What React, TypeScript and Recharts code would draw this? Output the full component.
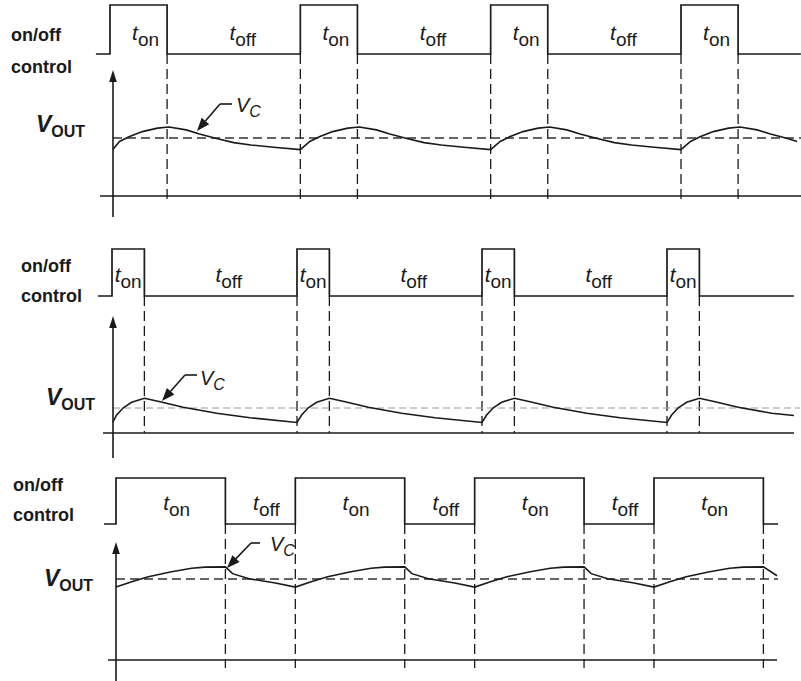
import React from 'react';
import { LineChart, Line, XAxis, YAxis, ReferenceLine, ReferenceDot } from 'recharts';

// ================= DATA (time in arbitrary units, period = 10; voltage with V_OUT = 5) =================

// ---- Panel 1: short on-time ----
const p1Rises = [0, 10, 20, 30];
const p1Falls = [3, 13, 23, 33];
const p1CtrlSpan = [-0.74, 36.3];
const p1VcTime = [
  0.15, 0.5, 1, 1.7, 2.5, 3.1, 4, 4.7, 5.6, 6.5, 7.4, 8.6,
  10, 10.5, 11, 11.7, 12.5, 13.1, 14, 14.7, 15.6, 16.5, 17.4, 18.6,
  20, 20.5, 21, 21.7, 22.5, 23.1, 24, 24.7, 25.6, 26.5, 27.4, 28.6,
  30, 30.5, 31, 31.7, 32.5, 33.1, 34, 34.7, 35.6, 36.1,
];
const p1VcVolt = [
  4.0, 4.7, 5.1, 5.55, 5.85, 5.95, 5.7, 5.35, 4.95, 4.6, 4.4, 4.2,
  4.0, 4.7, 5.1, 5.55, 5.85, 5.95, 5.7, 5.35, 4.95, 4.6, 4.4, 4.2,
  4.0, 4.7, 5.1, 5.55, 5.85, 5.95, 5.7, 5.35, 4.95, 4.6, 4.4, 4.2,
  4.0, 4.7, 5.1, 5.55, 5.85, 5.95, 5.7, 5.35, 4.95, 4.7,
];
const p1Vout = 5;

// ---- Panel 2: very short on-time ----
const p2Rises = [0, 10, 20, 30];
const p2Falls = [1.75, 11.75, 21.75, 31.75];
const p2CtrlSpan = [-0.76, 36.86];
const p2VcTime = [
  0.05, 0.25, 0.61, 1.06, 1.75, 2.6, 3.85, 5.66, 7.46,
  10, 10.25, 10.61, 11.06, 11.75, 12.6, 13.85, 15.66, 17.46,
  20, 20.25, 20.61, 21.06, 21.75, 22.6, 23.85, 25.66, 27.46,
  30, 30.25, 30.61, 31.06, 31.75, 32.6, 33.85, 35.66, 36.86,
];
const p2VcVolt = [
  2.2, 3.6, 5.05, 6.15, 6.95, 6.25, 5.15, 3.95, 3.05,
  2.1, 3.6, 5.05, 6.15, 6.95, 6.25, 5.15, 3.95, 3.05,
  2.1, 3.6, 5.05, 6.15, 6.95, 6.25, 5.15, 3.95, 3.05,
  2.1, 3.6, 5.05, 6.15, 6.95, 6.25, 5.15, 3.95, 3.5,
];
const p2Vout = 5;

// ---- Panel 3: long on-time ----
const p3Rises = [0, 10, 20, 30];
const p3Falls = [6.1, 16.1, 26.1, 36.1];
const p3CtrlSpan = [-0.67, 36.92];
const p3VcTime = [
  0, 0.88, 1.8, 3.1, 4.22, 4.96, 6.1, 6.5, 7.42, 8.89,
  10, 10.88, 11.8, 13.1, 14.22, 14.96, 16.1, 16.5, 17.42, 18.89,
  20, 20.88, 21.8, 23.1, 24.22, 24.96, 26.1, 26.5, 27.42, 28.89,
  30, 30.88, 31.8, 33.1, 34.22, 34.96, 36.1, 36.86,
];
const p3VcVolt = [
  4.5, 4.83, 5.14, 5.45, 5.66, 5.73, 5.75, 5.33, 5.02, 4.75,
  4.5, 4.83, 5.14, 5.45, 5.66, 5.73, 5.75, 5.33, 5.02, 4.75,
  4.5, 4.83, 5.14, 5.45, 5.66, 5.73, 5.75, 5.33, 5.02, 4.75,
  4.5, 4.83, 5.14, 5.45, 5.66, 5.73, 5.75, 5.2,
];
const p3Vout = 5;

// ================= LAYOUT / STYLE =================
const W = 801;
const INK = '#1a1a1a';
const FONT = '"Liberation Sans", Arial, Helvetica, sans-serif';

type Layout = {
  top: number; height: number; t0Px: number; pxPerT: number;
  vZeroPx: number; pxPerV: number; cLowPx: number; cHighPx: number;
};

type Spec = {
  L: Layout;
  rises: number[]; falls: number[]; span: number[];
  vcT: number[]; vcV: number[]; vout: number;
  voutStroke: string; voutWidth: number; voutDash: string;
  axisPx: number; axisTopPy: number; axisBottomPy: number;
  baseFromPx: number; baseToPx: number;
  voutFromPx: number; voutToPx: number;
  dashBottomPy: number;
  onoff: number[]; control: number[]; voutLabel: number[];
  tLabelPy: number; tOnDx: number; tOffDx: number;
  vcLabel: number[]; callout: number[][];
};

const xDomain = (L: Layout) => [-L.t0Px / L.pxPerT, (W - L.t0Px) / L.pxPerT];
const vDomain = (L: Layout) => {
  const z = L.vZeroPx - L.top;
  return [(z - L.height) / L.pxPerV, z / L.pxPerV];
};
const cDomain = (L: Layout) => {
  const z = L.cLowPx - L.top;
  const k = L.cLowPx - L.cHighPx;
  return [(z - L.height) / k, z / k];
};
const tAt = (L: Layout, px: number) => (px - L.t0Px) / L.pxPerT;
const vAt = (L: Layout, py: number) => (L.vZeroPx - py) / L.pxPerV;

const arrowShape = (len: number, half: number) => (p: any) => {
  const { x1, y1, x2, y2 } = p;
  const a = Math.atan2(y2 - y1, x2 - x1);
  const bx = x2 - len * Math.cos(a);
  const by = y2 - len * Math.sin(a);
  const ox = -Math.sin(a) * half;
  const oy = Math.cos(a) * half;
  return (
    <g>
      <line x1={x1} y1={y1} x2={bx} y2={by} stroke={INK} strokeWidth={1.6} />
      <polygon points={`${x2},${y2} ${bx + ox},${by + oy} ${bx - ox},${by - oy}`} fill={INK} />
    </g>
  );
};

function Panel({ s }: { s: Spec }) {
  const L = s.L;
  const pulse: { t: number; c: number }[] = [{ t: s.span[0], c: 0 }];
  s.rises.forEach((r, i) => {
    pulse.push({ t: r, c: 0 }, { t: r, c: 1 }, { t: s.falls[i], c: 1 }, { t: s.falls[i], c: 0 });
  });
  pulse.push({ t: s.span[1], c: 0 });
  const vc = s.vcT.map((t, i) => ({ t, v: s.vcV[i] }));

  const edges = [...s.rises.slice(1), ...s.falls];
  const dashTop = vAt(L, L.cLowPx);
  const dashBottom = vAt(L, s.dashBottomPy);
  const tLabelV = vAt(L, s.tLabelPy);

  const offs = s.falls.slice(0, -1).map((f, i) => (f + s.rises[i + 1]) / 2);
  const ons = s.rises.map((r, i) => (r + s.falls[i]) / 2);

  const tLabel = (sub: string, dx: number) => (p: any) => (
    <text x={p.cx + dx} y={p.cy} textAnchor="middle" fontFamily={FONT} fill={INK}>
      <tspan fontStyle="italic" fontSize={21}>t</tspan>
      <tspan fontSize={19} dy={6}>{sub}</tspan>
    </text>
  );

  return (
    <div style={{ position: 'absolute', left: 0, top: L.top }}>
      <LineChart width={W} height={L.height} margin={{ top: 0, right: 0, bottom: 0, left: 0 }}>
        <XAxis type="number" dataKey="t" hide domain={xDomain(L)} allowDataOverflow />
        <YAxis yAxisId="v" type="number" hide domain={vDomain(L)} allowDataOverflow />
        <YAxis yAxisId="c" type="number" hide domain={cDomain(L)} allowDataOverflow />

        {edges.map((t, i) => (
          <ReferenceLine key={'e' + i} yAxisId="v" ifOverflow="visible"
            segment={[{ x: t, y: dashTop }, { x: t, y: dashBottom }]}
            stroke={INK} strokeWidth={1.3} strokeDasharray="10 5" />
        ))}
        <ReferenceLine yAxisId="v" ifOverflow="visible"
          segment={[{ x: tAt(L, s.voutFromPx), y: s.vout }, { x: tAt(L, s.voutToPx), y: s.vout }]}
          stroke={s.voutStroke} strokeWidth={s.voutWidth} strokeDasharray={s.voutDash} />
        <ReferenceLine yAxisId="v" ifOverflow="visible"
          segment={[{ x: tAt(L, s.baseFromPx), y: 0 }, { x: tAt(L, s.baseToPx), y: 0 }]}
          stroke={INK} strokeWidth={1.6} />
        <ReferenceLine yAxisId="v" ifOverflow="visible"
          segment={[{ x: tAt(L, s.axisPx), y: vAt(L, s.axisBottomPy) }, { x: tAt(L, s.axisPx), y: vAt(L, s.axisTopPy) }]}
          shape={arrowShape(12, 3.8)} />
        <ReferenceLine yAxisId="v" ifOverflow="visible"
          segment={[{ x: tAt(L, s.callout[0][0]), y: vAt(L, s.callout[0][1]) }, { x: tAt(L, s.callout[1][0]), y: vAt(L, s.callout[1][1]) }]}
          stroke={INK} strokeWidth={1.6} />
        <ReferenceLine yAxisId="v" ifOverflow="visible"
          segment={[{ x: tAt(L, s.callout[1][0]), y: vAt(L, s.callout[1][1]) }, { x: tAt(L, s.callout[2][0]), y: vAt(L, s.callout[2][1]) }]}
          shape={arrowShape(13, 5)} />

        <Line yAxisId="c" data={pulse} dataKey="c" type="linear" stroke={INK} strokeWidth={1.7}
          dot={false} activeDot={false} isAnimationActive={false} />
        <Line yAxisId="v" data={vc} dataKey="v" type="linear" stroke={INK} strokeWidth={1.6}
          dot={false} activeDot={false} isAnimationActive={false} />

        {ons.map((t, i) => (
          <ReferenceDot key={'on' + i} yAxisId="v" ifOverflow="visible" x={t} y={tLabelV} r={0}
            shape={tLabel('on', s.tOnDx)} />
        ))}
        {offs.map((t, i) => (
          <ReferenceDot key={'off' + i} yAxisId="v" ifOverflow="visible" x={t} y={tLabelV} r={0}
            shape={tLabel('off', s.tOffDx)} />
        ))}
        <ReferenceDot yAxisId="v" ifOverflow="visible" x={tAt(L, s.onoff[0])} y={vAt(L, s.onoff[1])} r={0}
          shape={(p: any) => (
            <text x={p.cx} y={p.cy} fontFamily={FONT} fontWeight="bold" fontSize={18} fill={INK}>on/off</text>
          )} />
        <ReferenceDot yAxisId="v" ifOverflow="visible" x={tAt(L, s.control[0])} y={vAt(L, s.control[1])} r={0}
          shape={(p: any) => (
            <text x={p.cx} y={p.cy} fontFamily={FONT} fontWeight="bold" fontSize={18} fill={INK}>control</text>
          )} />
        <ReferenceDot yAxisId="v" ifOverflow="visible" x={tAt(L, s.voutLabel[0])} y={vAt(L, s.voutLabel[1])} r={0}
          shape={(p: any) => (
            <text x={p.cx} y={p.cy} fontFamily={FONT} fontWeight="bold" fill={INK}>
              <tspan fontStyle="italic" fontSize={23}>V</tspan>
              <tspan fontSize={16} dy={5}>OUT</tspan>
            </text>
          )} />
        <ReferenceDot yAxisId="v" ifOverflow="visible" x={tAt(L, s.vcLabel[0])} y={vAt(L, s.vcLabel[1])} r={0}
          shape={(p: any) => (
            <text x={p.cx} y={p.cy} fontFamily={FONT} fill={INK} fontStyle="italic">
              <tspan fontSize={20}>V</tspan>
              <tspan fontSize={16} dy={5}>C</tspan>
            </text>
          )} />
      </LineChart>
    </div>
  );
}

const specs: Spec[] = [
  {
    L: { top: 0, height: 230, t0Px: 110, pxPerT: 19.033, vZeroPx: 196, pxPerV: 11.6, cLowPx: 54, cHighPx: 5 },
    rises: p1Rises, falls: p1Falls, span: p1CtrlSpan, vcT: p1VcTime, vcV: p1VcVolt, vout: p1Vout,
    voutStroke: '#333', voutWidth: 1.3, voutDash: '9 5',
    axisPx: 113, axisTopPy: 70, axisBottomPy: 217,
    baseFromPx: 100, baseToPx: 801, voutFromPx: 113, voutToPx: 801, dashBottomPy: 199,
    onoff: [11, 41], control: [11, 73], voutLabel: [36, 132],
    tLabelPy: 40, tOnDx: 7, tOffDx: 9,
    vcLabel: [236, 112], callout: [[232, 104], [220, 104], [197, 131]],
  },
  {
    L: { top: 230, height: 232, t0Px: 112, pxPerT: 18.5, vZeroPx: 433, pxPerV: 5, cLowPx: 296, cHighPx: 249 },
    rises: p2Rises, falls: p2Falls, span: p2CtrlSpan, vcT: p2VcTime, vcV: p2VcVolt, vout: p2Vout,
    voutStroke: '#9a9a9a', voutWidth: 1, voutDash: '7 4',
    axisPx: 113, axisTopPy: 316, axisBottomPy: 458,
    baseFromPx: 103, baseToPx: 794, voutFromPx: 113, voutToPx: 800, dashBottomPy: 433,
    onoff: [21, 272], control: [21, 302], voutLabel: [46, 405],
    tLabelPy: 282, tOnDx: 0, tOffDx: 8,
    vcLabel: [200, 385], callout: [[197, 375], [185, 375], [162, 401]],
  },
  {
    L: { top: 462, height: 219, t0Px: 116, pxPerT: 17.933, vZeroPx: 660, pxPerV: 16.2, cLowPx: 524, cHighPx: 478 },
    rises: p3Rises, falls: p3Falls, span: p3CtrlSpan, vcT: p3VcTime, vcV: p3VcVolt, vout: p3Vout,
    voutStroke: '#333', voutWidth: 1.3, voutDash: '9 5',
    axisPx: 116, axisTopPy: 542, axisBottomPy: 681,
    baseFromPx: 108, baseToPx: 777, voutFromPx: 116, voutToPx: 778, dashBottomPy: 668,
    onoff: [13, 491], control: [13, 521], voutLabel: [44, 586],
    tLabelPy: 510, tOnDx: 6, tOffDx: 6,
    vcLabel: [270, 551], callout: [[260, 543], [251, 543], [227, 568]],
  },
];

export default function App() {
  return (
    <div style={{ position: 'absolute', left: 0, top: 0, width: W, height: 681, background: '#fff', overflow: 'hidden' }}>
      {specs.map((s, i) => (
        <Panel key={i} s={s} />
      ))}
    </div>
  );
}
